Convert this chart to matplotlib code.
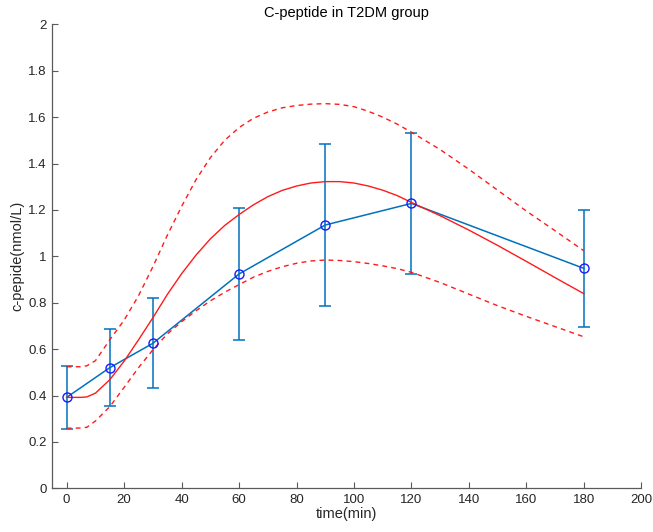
import matplotlib
matplotlib.use("Agg")
import matplotlib.pyplot as plt

# measured data (mean +/- SD)
time_pts = [0, 15, 30, 60, 90, 120, 180]
cpep_mean = [0.392, 0.520, 0.625, 0.924, 1.135, 1.228, 0.948]
err_upper = [0.527, 0.685, 0.819, 1.209, 1.483, 1.533, 1.200]
err_lower = [0.254, 0.355, 0.431, 0.639, 0.787, 0.925, 0.697]

# fitted curve and confidence band
fit_t = [0, 5, 7, 10, 15, 20, 25, 30, 35, 40, 45, 50, 55, 60, 65, 70, 75, 80,
         85, 90, 95, 100, 105, 110, 115, 120, 130, 140, 150, 160, 170, 180]
fit_mid = [0.392, 0.392, 0.394, 0.410, 0.468, 0.548, 0.640, 0.735, 0.835, 0.925,
           1.005, 1.075, 1.133, 1.180, 1.222, 1.257, 1.284, 1.303, 1.316, 1.322,
           1.322, 1.316, 1.303, 1.285, 1.262, 1.232, 1.175, 1.113, 1.047, 0.978,
           0.908, 0.839]
fit_hi = [0.524, 0.524, 0.528, 0.550, 0.640, 0.725, 0.830, 0.955, 1.090, 1.215,
          1.330, 1.425, 1.500, 1.555, 1.595, 1.622, 1.640, 1.650, 1.656, 1.658,
          1.655, 1.645, 1.625, 1.600, 1.570, 1.535, 1.460, 1.375, 1.285, 1.195,
          1.110, 1.024]
fit_lo = [0.259, 0.260, 0.263, 0.290, 0.352, 0.435, 0.520, 0.597, 0.665, 0.718,
          0.765, 0.808, 0.845, 0.878, 0.910, 0.935, 0.955, 0.970, 0.980, 0.984,
          0.982, 0.977, 0.969, 0.959, 0.947, 0.931, 0.887, 0.837, 0.787, 0.741,
          0.697, 0.653]

xticks = list(range(0, 201, 20))
yticks = [0, 0.2, 0.4, 0.6, 0.8, 1.0, 1.2, 1.4, 1.6, 1.8, 2.0]
yticklabels = ["0", "0.2", "0.4", "0.6", "0.8", "1", "1.2", "1.4", "1.6", "1.8", "2"]

plt.rcParams['font.family'] = ['Liberation Sans', 'DejaVu Sans']
fig = plt.figure(figsize=(6.53, 5.32), dpi=100)
ax = fig.add_axes([0.0801, 0.0821, 0.9020, 0.8722])

mlblue = (0, 0.447, 0.741)
yerr = [[m - l for m, l in zip(cpep_mean, err_lower)],
        [u - m for m, u in zip(cpep_mean, err_upper)]]
ax.errorbar(time_pts, cpep_mean, yerr=yerr, color=mlblue, lw=1.1,
            elinewidth=1.1, capsize=4, capthick=1.1, zorder=2)
ax.plot(fit_t, fit_mid, color='#ff1a1a', lw=1.0, zorder=3)
ax.plot(fit_t, fit_hi, color='#ff1a1a', lw=1.0, ls=(0, (3.5, 3)), zorder=3)
ax.plot(fit_t, fit_lo, color='#ff1a1a', lw=1.0, ls=(0, (3.5, 3)), zorder=3)
ax.plot(time_pts, cpep_mean, ls='none', marker='o', ms=6.5, mfc='none',
        mec='#1a1aff', mew=1.0, zorder=4)

ax.set_xlim(-5, 200)
ax.set_ylim(0, 2)
ax.set_xticks(xticks)
ax.set_yticks(yticks)
ax.set_yticklabels(yticklabels)

axcol = '#262626'
for s in ['top', 'right']:
    ax.spines[s].set_visible(False)
for s in ['left', 'bottom']:
    ax.spines[s].set_color('#5a5a5a')
    ax.spines[s].set_linewidth(0.9)
ax.tick_params(direction='in', length=4.5, width=0.8, color='#5a5a5a',
               labelsize=9.5, labelcolor=axcol, pad=4)

ax.set_title('C-peptide in T2DM group', fontsize=10.5, color='black', pad=5)
ax.set_xlabel('time(min)', fontsize=10.5, color=axcol, labelpad=1)
ax.set_ylabel('c-pepide(nmol/L)', fontsize=10.5, color=axcol, labelpad=3)

fig.savefig('out.png', dpi=100)
